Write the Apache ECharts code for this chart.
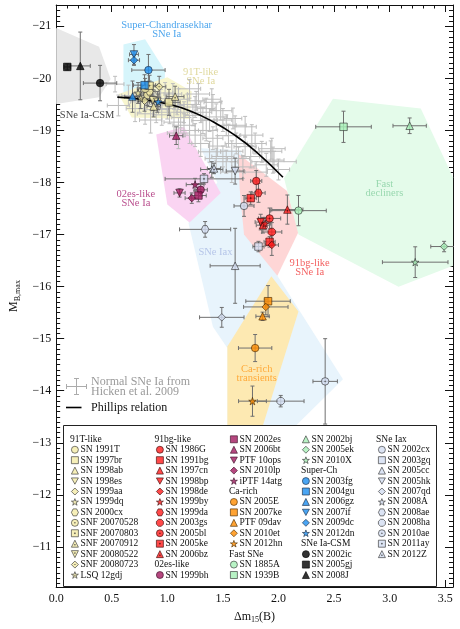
<!DOCTYPE html>
<html>
<head>
<meta charset="utf-8">
<title>Peculiar SNe Ia</title>
<script src="https://cdn.jsdelivr.net/npm/echarts@6.0.0/dist/echarts.min.js"></script>
<style>
html, body { margin: 0; padding: 0; background: #fff; }
#main { width: 460px; height: 629px; }
</style>
</head>
<body>
<div id="main"></div>
<script>
// axis ticks
var xTicks = [0, 0.5, 1, 1.5, 2, 2.5, 3, 3.5];
var yTicks = [-21, -20, -19, -18, -17, -16, -15, -14, -13, -12, -11];
var xMinorTicks = [];
for (var i = 0; i <= 35; i++) xMinorTicks.push(i / 10);
var yMinorTicks = [];
for (var j = -214; j <= -103; j++) yMinorTicks.push(j / 10);

// [name, dm15, M_B, err dm15, err M]
var sn91T = [
  ['SN 1991T', 0.82, -19.68, 0.05, 0.2],
  ['SN 1997br', 1.015, -19.54, 0.1, 0.25],
  ['SN 1998ab', 0.877, -19.46, 0.06, 0.2],
  ['SN 1998es', 0.87, -19.58, 0.05, 0.2],
  ['SN 1999aa', 0.795, -19.57, 0.06, 0.2],
  ['SN 1999dq', 0.737, -19.72, 0.05, 0.2],
  ['SN 2000cx', 0.84, -19.75, 0.05, 0.2],
  ['SNF 20070528', 0.80, -19.80, 0.07, 0.2],
  ['SNF 20070803', 0.84, -19.86, 0.07, 0.2],
  ['SNF 20070912', 1.07, -19.65, 0.08, 0.2],
  ['SNF 20080522', 0.91, -19.55, 0.07, 0.2],
  ['SNF 20080723', 0.927, -19.84, 0.06, 0.2],
  ['LSQ 12gdj', 0.76, -19.62, 0.05, 0.2]
];
var sn91bg = [
  ['SN 1986G', 1.80, -18.03, 0.05, 0.2],
  ['SN 1991bg', 1.92, -16.86, 0.05, 0.1],
  ['SN 1997cn', 1.86, -17.18, 0.06, 0.15],
  ['SN 1998bp', 1.84, -17.24, 0.05, 0.15],
  ['SN 1998de', 1.94, -16.80, 0.06, 0.2],
  ['SN 1999by', 1.88, -17.21, 0.05, 0.12],
  ['SN 1999da', 1.82, -17.80, 0.06, 0.18],
  ['SN 2003gs', 1.94, -17.05, 0.09, 0.18],
  ['SN 2005bl', 1.92, -17.31, 0.1, 0.2],
  ['SN 2005ke', 1.75, -17.70, 0.05, 0.12],
  ['SN 2006bz', 2.08, -17.48, 0.14, 0.28]
];
var sn02es = [
  ['SN 1999bh', 1.30, -17.86, 0.06, 0.12],
  ['SN 2002es', 1.28, -17.75, 0.07, 0.12],
  ['SN 2006bt', 1.08, -18.90, 0.06, 0.17],
  ['PTF 10ops', 1.11, -17.80, 0.05, 0.08],
  ['SN 2010lp', 1.22, -17.70, 0.06, 0.1],
  ['iPTF 14atg', 1.25, -17.96, 0.08, 0.12]
];
var snCa = [
  ['SN 2005E', 1.79, -14.82, 0.15, 0.26],
  ['SN 2007ke', 1.906, -15.72, 0.2, 0.3],
  ['PTF 09dav', 1.857, -15.43, 0.06, 0.08],
  ['SN 2010et', 1.886, -15.61, 0.2, 0.15],
  ['SN 2012hn', 1.766, -13.80, 0.125, 0.29]
];
var snFast = [
  ['SN 1885A', 2.18, -17.46, 0.25, 0.29],
  ['SN 1939B', 2.585, -19.07, 0.25, 0.3],
  ['SN 2002bj', 3.18, -19.09, 0.15, 0.15],
  ['SN 2005ek', 3.49, -16.77, 0.12, 0.1],
  ['SN 2010X', 3.23, -16.47, 0.295, 0.295]
];
var snSuperCh = [
  ['SN 2003fg', 0.83, -20.16, 0.15, 0.3],
  ['SN 2004gu', 0.795, -19.87, 0.1, 0.2],
  ['SN 2006gz', 0.687, -19.65, 0.07, 0.3],
  ['SN 2007if', 0.70, -20.46, 0.04, 0.19],
  ['SN 2009dc', 0.70, -20.35, 0.05, 0.1],
  ['SN 2012dn', 0.918, -19.55, 0.06, 0.15]
];
var snCSM = [
  ['SN 2002ic', 0.395, -19.91, 0.15, 0.34],
  ['SN 2005gj', 0.10, -20.22, 0.03, 0.06],
  ['SN 2008J', 0.217, -20.24, 0.09, 0.65]
];
var snIax = [
  ['SN 2002cx', 1.69, -17.55, 0.09, 0.2],
  ['SN 2003gq', 1.82, -16.77, 0.05, 0.1],
  ['SN 2005cc', 1.61, -16.40, 0.225, 0.72],
  ['SN 2005hk', 1.61, -18.22, 0.08, 0.25],
  ['SN 2007qd', 1.49, -15.41, 0.2, 0.19],
  ['SN 2008A', 1.40, -18.25, 0.1, 0.15],
  ['SN 2008ae', 1.34, -17.10, 0.23, 0.15],
  ['SN 2008ha', 2.02, -13.80, 0.21, 0.11],
  ['SN 2010ae', 2.42, -14.18, 0.11, 0.82],
  ['SN 2011ay', 1.33, -18.07, 0.35, 0.1],
  ['SN 2012Z', 1.42, -18.27, 0.06, 0.1]
];

// normal SNe Ia (Hicken et al. 2009): [dm15, M_B, err dm15, err M]
var normals = [
  [0.53, -19.89, 0.08, 0.15], [0.56, -19.48, 0.1, 0.2], [0.65, -19.67, 0.06, 0.2],
  [0.71, -19.42, 0.08, 0.25], [0.80, -19.32, 0.07, 0.2], [0.88, -19.50, 0.08, 0.2],
  [0.90, -19.40, 0.1, 0.25], [0.94, -19.61, 0.06, 0.18], [0.95, -19.30, 0.08, 0.2],
  [1.00, -19.42, 0.07, 0.2], [1.00, -19.55, 0.06, 0.15], [1.02, -19.35, 0.1, 0.22],
  [1.05, -19.70, 0.08, 0.2], [1.06, -19.16, 0.09, 0.25], [1.09, -19.48, 0.06, 0.18],
  [1.10, -19.60, 0.1, 0.2], [1.10, -18.95, 0.1, 0.3], [1.12, -19.25, 0.08, 0.2],
  [1.15, -19.35, 0.07, 0.2], [1.15, -19.10, 0.1, 0.22], [1.18, -19.50, 0.08, 0.2],
  [1.20, -19.80, 0.1, 0.18], [1.20, -19.00, 0.08, 0.25], [1.23, -19.29, 0.07, 0.2],
  [1.25, -19.45, 0.1, 0.2], [1.25, -18.91, 0.09, 0.22], [1.26, -19.57, 0.08, 0.18],
  [1.30, -19.35, 0.1, 0.2], [1.30, -18.75, 0.08, 0.25], [1.32, -19.19, 0.1, 0.25],
  [1.35, -19.42, 0.08, 0.2], [1.35, -19.00, 0.1, 0.2], [1.38, -19.20, 0.07, 0.22],
  [1.38, -18.59, 0.1, 0.2], [1.41, -19.54, 0.08, 0.15], [1.41, -18.85, 0.09, 0.22],
  [1.44, -19.26, 0.1, 0.25], [1.44, -18.46, 0.1, 0.2], [1.45, -18.70, 0.08, 0.2],
  [1.48, -19.38, 0.1, 0.18], [1.50, -19.20, 0.08, 0.22], [1.50, -18.50, 0.1, 0.2],
  [1.53, -19.10, 0.09, 0.2], [1.53, -18.40, 0.1, 0.22], [1.55, -18.90, 0.1, 0.22],
  [1.58, -18.20, 0.1, 0.2], [1.59, -19.23, 0.08, 0.2], [1.61, -19.10, 0.1, 0.18],
  [1.62, -18.75, 0.1, 0.2], [1.64, -18.46, 0.1, 0.22], [1.68, -18.30, 0.1, 0.22],
  [1.70, -19.07, 0.1, 0.2], [1.70, -18.69, 0.1, 0.2], [1.75, -18.50, 0.08, 0.22],
  [1.76, -18.91, 0.1, 0.2], [1.79, -18.75, 0.1, 0.2], [1.80, -18.20, 0.1, 0.2],
  [1.85, -18.59, 0.08, 0.2], [1.89, -18.34, 0.1, 0.22], [1.93, -18.60, 0.1, 0.2],
  [1.94, -18.65, 0.12, 0.2], [1.95, -18.43, 0.1, 0.25], [1.96, -18.40, 0.2, 0.2],
  [2.00, -18.25, 0.1, 0.2], [0.75, -19.55, 0.08, 0.2], [0.85, -19.20, 0.1, 0.25],
  [0.98, -19.72, 0.07, 0.2], [1.28, -19.70, 0.1, 0.2], [1.40, -19.60, 0.08, 0.2],
  [1.58, -18.60, 0.1, 0.2]
];

// Phillips relation
var phillipsX = [0.55, 0.8, 1.0, 1.2, 1.4, 1.6, 1.8, 2.04];
var phillipsY = [-19.64, -19.59, -19.51, -19.38, -19.18, -18.92, -18.59, -18.10];

// class regions (polygon vertices)
var regCSM = [[0, -20.97], [0.386, -20.61], [0.49, -19.99], [0.386, -19.64], [0, -19.51]];
var regSuperCh = [[0.605, -20.65], [0.80, -20.75], [0.98, -20.14], [0.97, -19.66], [0.74, -19.42], [0.605, -19.6]];
var reg91T = [[0.56, -19.7], [1.0, -20.02], [1.22, -19.75], [1.2, -19.22], [0.68, -19.25]];
var reg02es = [[0.90, -18.92], [1.15, -19.07], [1.48, -17.80], [1.20, -17.23], [1.0, -17.58]];
var regIax = [[1.30, -18.66], [1.66, -18.62], [1.99, -16.21], [2.58, -14.22], [2.0, -13.0], [1.54, -13.0], [1.54, -14.82], [1.41, -15.23], [1.19, -17.22], [1.45, -18.0]];
var reg91bg = [[1.64, -18.55], [2.08, -17.83], [2.18, -17.05], [1.99, -16.21], [1.69, -17.0], [1.65, -17.9]];
var regCa = [[1.936, -16.2], [2.18, -15.52], [1.84, -13.2], [1.54, -13.2], [1.54, -14.85]];
var regFast = [[2.05, -18.08], [2.49, -19.61], [3.28, -19.42], [3.57, -18.1], [3.57, -16.4], [3.08, -16.0], [2.18, -17.0]];

var regionLabels = [
  ['Super-Chandrasekhar\nSNe Ia', 0.994, -20.94],
  ['91T-like\nSNe Ia', 1.30, -20.03],
  ['SNe Ia-CSM', 0.278, -19.30],
  ['02es-like\nSNe Ia', 0.717, -17.68],
  ['SNe Iax', 1.433, -16.66],
  ['91bg-like\nSNe Ia', 2.28, -16.37],
  ['Ca-rich\ntransients', 1.804, -14.33],
  ['Fast\ndecliners', 2.953, -17.88]
];

var legendCols = [
  ['#91T-like', 'SN 1991T', 'SN 1997br', 'SN 1998ab', 'SN 1998es', 'SN 1999aa', 'SN 1999dq', 'SN 2000cx',
   'SNF 20070528', 'SNF 20070803', 'SNF 20070912', 'SNF 20080522', 'SNF 20080723', 'LSQ 12gdj'],
  ['#91bg-like', 'SN 1986G', 'SN 1991bg', 'SN 1997cn', 'SN 1998bp', 'SN 1998de', 'SN 1999by', 'SN 1999da',
   'SN 2003gs', 'SN 2005bl', 'SN 2005ke', 'SN 2006bz', '#02es-like', 'SN 1999bh'],
  ['SN 2002es', 'SN 2006bt', 'PTF 10ops', 'SN 2010lp', 'iPTF 14atg', '#Ca-rich', 'SN 2005E', 'SN 2007ke',
   'PTF 09dav', 'SN 2010et', 'SN 2012hn', '#Fast SNe', 'SN 1885A', 'SN 1939B'],
  ['SN 2002bj', 'SN 2005ek', 'SN 2010X', '#Super-Ch', 'SN 2003fg', 'SN 2004gu', 'SN 2006gz', 'SN 2007if',
   'SN 2009dc', 'SN 2012dn', '#SNe Ia-CSM', 'SN 2002ic', 'SN 2005gj', 'SN 2008J'],
  ['#SNe Iax', 'SN 2002cx', 'SN 2003gq', 'SN 2005cc', 'SN 2005hk', 'SN 2007qd', 'SN 2008A', 'SN 2008ae',
   'SN 2008ha', 'SN 2010ae', 'SN 2011ay', 'SN 2012Z']
];

// ---- styles ----
var FONT = '"Liberation Serif", "Times New Roman", serif';
var X_MIN = 0, X_MAX = 3.57, Y_MIN = -21.41, Y_MAX = -10.23;

var SYM = {
  circle: 'circle',
  square: 'rect',
  triangle: 'triangle',
  down: 'path://M0,0L20,0L10,18Z',
  diamond: 'diamond',
  star: 'path://M10,0L12.4,7.2L20,7.2L13.8,11.7L16.2,19L10,14.5L3.8,19L6.2,11.7L0,7.2L7.6,7.2Z',
  hexagon: 'path://M5,0L15,0L20,10L15,20L5,20L0,10Z',
  octagon: 'path://M6,0L14,0L20,6L20,14L14,20L6,20L0,14L0,6Z',
  circleDot: 'path://M10,0A10,10,0,1,1,10,20A10,10,0,1,1,10,0ZM10,8.8A1.2,1.2,0,1,1,10,11.2A1.2,1.2,0,1,1,10,8.8Z',
  squareDot: 'path://M0,0L20,0L20,20L0,20ZM8.8,8.8L11.2,8.8L11.2,11.2L8.8,11.2Z',
  triDot: 'path://M10,0L20,20L0,20ZM10,11.5L11.3,14L8.7,14Z',
  downDot: 'path://M0,0L20,0L10,20ZM8.7,6L11.3,6L10,8.5Z',
  diamondDot: 'path://M10,0L20,10L10,20L0,10ZM10,8.8L11.2,10L10,11.2L8.8,10Z',
  starDot: 'path://M10,0L12.4,7.2L20,7.2L13.8,11.7L16.2,19L10,14.5L3.8,19L6.2,11.7L0,7.2L7.6,7.2ZM10,10L11,11L10,12L9,11Z'
};
var shapes11 = ['circle', 'square', 'triangle', 'down', 'diamond', 'star', 'hexagon', 'octagon', 'circleDot', 'squareDot', 'triDot'];
var shapes91T = ['circle', 'square', 'triangle', 'down', 'diamond', 'star', 'hexagon', 'circleDot', 'squareDot', 'triDot', 'downDot', 'diamondDot', 'starDot'];
var shapes6 = ['circle', 'square', 'triangle', 'down', 'diamond', 'star'];
var shapes5 = ['circle', 'square', 'triangle', 'diamond', 'star'];

var groups = [
  {rows: snIax, shapes: shapes11, fill: '#d3ddf1', edge: '#333'},
  {rows: sn91T, shapes: shapes91T, fill: '#f4eba6', edge: '#333'},
  {rows: snSuperCh, shapes: shapes6, fill: '#1d8ff0', edge: '#1a2a40'},
  {rows: snCSM, shapes: ['circle', 'square', 'triangle'], fill: '#000', edge: '#000'},
  {rows: sn02es, shapes: shapes6, fill: '#a3195f', edge: '#3a1028'},
  {rows: sn91bg, shapes: shapes11, fill: '#ff1c1c', edge: '#3a0a0a'},
  {rows: snCa, shapes: shapes5, fill: '#ff8c00', edge: '#4a2a00'},
  {rows: snFast, shapes: shapes5, fill: '#a6f0b6', edge: '#333'}
];
var regions = [
  {pts: regCSM, fill: '#e8e8e8'},
  {pts: regSuperCh, fill: '#d6f5fb'},
  {pts: reg91T, fill: '#f8f6cf'},
  {pts: regIax, fill: '#e8f4fc'},
  {pts: reg02es, fill: '#fad4f2'},
  {pts: reg91bg, fill: '#fed6d6'},
  {pts: regCa, fill: '#fde9b2'},
  {pts: regFast, fill: '#e4fbea'}
];
var labelColors = ['#1f8fe8', '#d8cf86', '#111', '#a82070', '#a9b9e3', '#f03838', '#ff9a1a', '#86cfa0'];

function regionSeries(pts, fill) {
  return {
    type: 'custom', silent: true, z: 1, clip: true, data: pts,
    renderItem: function (params, api) {
      if (params.dataIndex !== 0) return null;
      return {type: 'polygon', shape: {points: pts.map(function (p) { return api.coord(p); })}, style: {fill: fill}};
    }
  };
}

function errorBars(color, cap) {
  return function (params, api) {
    var x = api.value(0), y = api.value(1), ex = api.value(2), ey = api.value(3);
    var l = api.coord([x - ex, y]), r = api.coord([x + ex, y]);
    var t = api.coord([x, y - ey]), b = api.coord([x, y + ey]);
    var st = {stroke: color, lineWidth: 1};
    function ln(x1, y1, x2, y2) { return {type: 'line', shape: {x1: x1, y1: y1, x2: x2, y2: y2}, style: st}; }
    return {type: 'group', children: [
      ln(l[0], l[1], r[0], r[1]), ln(t[0], t[1], b[0], b[1]),
      ln(l[0], l[1] - cap, l[0], l[1] + cap), ln(r[0], r[1] - cap, r[0], r[1] + cap),
      ln(t[0] - cap, t[1], t[0] + cap, t[1]), ln(b[0] - cap, b[1], b[0] + cap, b[1])
    ]};
  };
}

function makeX(pos, ticks, len, labels, line) {
  return {
    type: 'value', min: X_MIN, max: X_MAX, position: pos,
    axisLine: {show: line, onZero: false, lineStyle: {color: '#111', width: 1}},
    axisTick: {show: true, inside: true, length: len, customValues: ticks, lineStyle: {color: '#111', width: 1}},
    axisLabel: labels ? {show: true, customValues: ticks, margin: 6, color: '#111', fontFamily: FONT, fontSize: 12,
      formatter: function (v) { return v.toFixed(1); }} : {show: false},
    splitLine: {show: false}
  };
}
function makeY(pos, ticks, len, labels, line) {
  return {
    type: 'value', min: Y_MIN, max: Y_MAX, inverse: true, position: pos,
    axisLine: {show: line, onZero: false, lineStyle: {color: '#111', width: 1}},
    axisTick: {show: true, inside: true, length: len, customValues: ticks, lineStyle: {color: '#111', width: 1}},
    axisLabel: labels ? {show: true, customValues: ticks, margin: 5, color: '#111', fontFamily: FONT, fontSize: 12,
      formatter: function (v) { return '\u2212' + Math.abs(v); }} : {show: false},
    splitLine: {show: false}
  };
}

var xAxes = [makeX('bottom', xTicks, 7, true, true), makeX('bottom', xMinorTicks, 3.5, false, false),
             makeX('top', xTicks, 7, false, true), makeX('top', xMinorTicks, 3.5, false, false)];
xAxes[0].name = '{a|\u0394m}{s|15}{a|(B)}';
xAxes[0].nameLocation = 'middle';
xAxes[0].nameGap = 22;
xAxes[0].nameTextStyle = {color: '#111', rich: {
  a: {fontFamily: FONT, fontSize: 12, color: '#111'},
  s: {fontFamily: FONT, fontSize: 8, color: '#111', padding: [7, 0, 0, 0]}
}};
var yAxes = [makeY('left', yTicks, 8, true, true), makeY('left', yMinorTicks, 4, false, false),
             makeY('right', yTicks, 8, false, true), makeY('right', yMinorTicks, 4, false, false)];
yAxes[0].name = '{a|M}{s|B,max}';
yAxes[0].nameLocation = 'middle';
yAxes[0].nameRotate = 90;
yAxes[0].nameGap = 30;
yAxes[0].nameTextStyle = {color: '#111', rich: {
  a: {fontFamily: FONT, fontSize: 12, color: '#111'},
  s: {fontFamily: FONT, fontSize: 8, color: '#111', padding: [7, 0, 0, 0]}
}};

var series = [];
regions.forEach(function (rg) { series.push(regionSeries(rg.pts, rg.fill)); });

series.push({
  type: 'scatter', silent: true, z: 1, symbolSize: 1, itemStyle: {color: 'transparent'},
  data: regionLabels.map(function (r, k) {
    return {name: r[0], value: [r[1], r[2]], label: {color: labelColors[k]}};
  }),
  label: {show: true, position: 'inside', formatter: '{b}', fontFamily: FONT, fontSize: 10.5, lineHeight: 9, align: 'center'}
});

series.push({type: 'custom', silent: true, z: 2, clip: true, data: normals, renderItem: errorBars('#bdbdbd', 2)});

var pecBars = [];
groups.forEach(function (g) { g.rows.forEach(function (r) { pecBars.push([r[1], r[2], r[3], r[4]]); }); });
series.push({type: 'custom', silent: true, z: 2, clip: true, data: pecBars, renderItem: errorBars('#6f6f6f', 2)});

series.push({
  type: 'line', silent: true, z: 3, smooth: true, symbol: 'none',
  data: phillipsX.map(function (x, k) { return [x, phillipsY[k]]; }),
  lineStyle: {color: '#000', width: 1.6}
});

groups.forEach(function (g) {
  g.rows.forEach(function (r, k) {
    series.push({
      type: 'scatter', name: r[0], silent: true, z: 4,
      symbol: SYM[g.shapes[k]], symbolSize: 7.5,
      itemStyle: {color: g.fill, borderColor: g.edge, borderWidth: 0.8},
      data: [[r[1], r[2]]]
    });
  });
});

// ---- legend box ----
var colSym = [74.5, 159.5, 233.5, 305.5, 381.5];
var colHead = [70, 154.5, 229, 301, 376];
var row0 = 439.3, rowStep = 10.44;
var legends = [];
var graphics = [
  {type: 'rect', z: 10, shape: {x: 63.5, y: 425.5, width: 373, height: 161}, style: {fill: '#fff', stroke: '#222', lineWidth: 1}}
];
legendCols.forEach(function (col, ci) {
  var run = null;
  col.forEach(function (entry, ri) {
    if (entry.charAt(0) === '#') {
      run = null;
      graphics.push({type: 'text', z: 21, x: colHead[ci], y: row0 + ri * rowStep,
        style: {text: entry.slice(1), fill: '#111', fontFamily: FONT, fontSize: 9.5, verticalAlign: 'middle', align: 'left'}});
    } else {
      if (!run) {
        run = {type: 'plain', orient: 'vertical', z: 20, selectedMode: false,
          left: colSym[ci] - 3.5, top: row0 + ri * rowStep - rowStep / 2,
          padding: 0, itemGap: 0, itemWidth: 7, itemHeight: 7,
          itemStyle: {borderWidth: 0.8},
          textStyle: {fontFamily: FONT, fontSize: 9.5, lineHeight: rowStep, color: '#111', padding: [0, 0, 0, -3]},
          data: []};
        legends.push(run);
      }
      run.data.push(entry);
    }
  });
});

// ---- annotation for normal SNe and Phillips relation ----
var grey = '#ababab';
function gl(x1, y1, x2, y2, c, w) { return {type: 'line', z: 10, shape: {x1: x1, y1: y1, x2: x2, y2: y2}, style: {stroke: c, lineWidth: w}}; }
graphics.push(gl(66.5, 386.5, 86.5, 386.5, grey, 1), gl(76.5, 378.5, 76.5, 394.5, grey, 1),
  gl(66.5, 384, 66.5, 389, grey, 1), gl(86.5, 384, 86.5, 389, grey, 1),
  gl(74, 378.5, 79, 378.5, grey, 1), gl(74, 394.5, 79, 394.5, grey, 1),
  gl(66, 407.5, 81.5, 407.5, '#000', 1.6));
graphics.push(
  {type: 'text', z: 10, x: 91, y: 381.5, style: {text: 'Normal SNe Ia from', fill: '#9a9a9a', fontFamily: FONT, fontSize: 12, verticalAlign: 'middle'}},
  {type: 'text', z: 10, x: 91, y: 392.3, style: {text: 'Hicken et al. 2009', fill: '#9a9a9a', fontFamily: FONT, fontSize: 12, verticalAlign: 'middle'}},
  {type: 'text', z: 10, x: 91, y: 407.5, style: {text: 'Phillips relation', fill: '#111', fontFamily: FONT, fontSize: 12, verticalAlign: 'middle'}}
);

var chart = echarts.init(document.getElementById('main'), null, {renderer: 'canvas'});
chart.setOption({
  animation: false,
  backgroundColor: '#fff',
  grid: {left: 46, right: 7, top: 5, bottom: 36, containLabel: false},
  xAxis: xAxes,
  yAxis: yAxes,
  legend: legends,
  graphic: graphics,
  series: series
});
</script>
</body>
</html>
